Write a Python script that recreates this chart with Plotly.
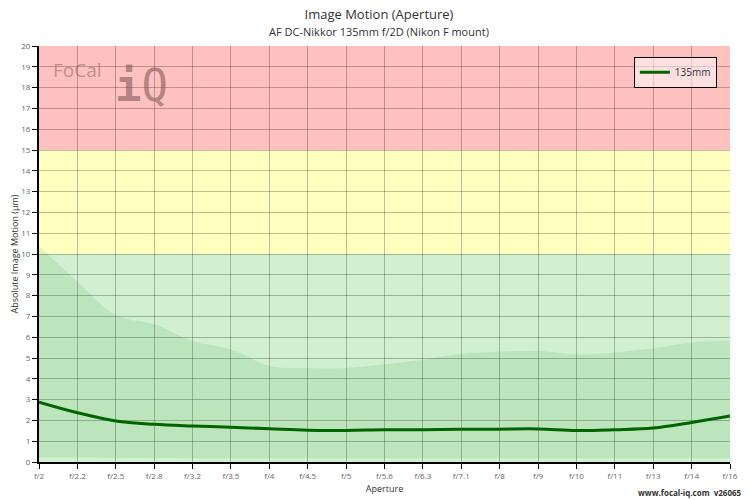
import plotly.graph_objects as go

# apertures along the x axis
apertures = ['f/2', 'f/2.2', 'f/2.5', 'f/2.8', 'f/3.2', 'f/3.5', 'f/4', 'f/4.5', 'f/5', 'f/5.6',
             'f/6.3', 'f/7.1', 'f/8', 'f/9', 'f/10', 'f/11', 'f/13', 'f/14', 'f/16']

# mean image motion (um) for the 135mm
motion = [2.88, 2.37, 1.97, 1.81, 1.73, 1.67, 1.60, 1.53, 1.52, 1.55,
          1.55, 1.57, 1.58, 1.59, 1.51, 1.55, 1.63, 1.90, 2.21]

# spread of the measurements (upper / lower)
spread_hi = [10.38, 8.67, 7.07, 6.62, 5.82, 5.42, 4.62, 4.52, 4.52, 4.70,
             4.92, 5.20, 5.30, 5.34, 5.18, 5.27, 5.47, 5.75, 5.83]
spread_lo = [0.21, 0.20, 0.19, 0.19, 0.18, 0.18, 0.18, 0.18, 0.18, 0.18,
             0.18, 0.18, 0.18, 0.18, 0.18, 0.18, 0.18, 0.18, 0.18]

# zones: (from, to, colour)
zones = [(0, 10, '#d0f0d0'), (10, 15, '#ffffc0'), (15, 20, '#ffc0c0')]

fig = go.Figure()

# spread area
fig.add_trace(go.Scatter(
    x=apertures, y=spread_lo, mode='lines', line=dict(width=0, shape='spline'),
    showlegend=False, hoverinfo='skip'
))
fig.add_trace(go.Scatter(
    x=apertures, y=spread_hi, mode='lines', line=dict(width=0, shape='spline'),
    fill='tonexty', fillcolor='rgba(0,118,0,0.09)',
    showlegend=False, hoverinfo='skip'
))

# the measured line
fig.add_trace(go.Scatter(
    x=apertures, y=motion, mode='lines', name='135mm',
    line=dict(color='#006400', width=3, shape='spline')
))

for lo, hi, col in zones:
    fig.add_shape(type='rect', xref='paper', yref='y', x0=0, x1=1, y0=lo, y1=hi,
                  fillcolor=col, line=dict(width=0), layer='below')

# page body has an 8px margin, so the figure is a bit smaller than the window
fig.update_layout(
    width=742, height=492,
    margin=dict(l=31, r=20, t=38, b=38, autoexpand=False),
    paper_bgcolor='white',
    plot_bgcolor='white',
    font=dict(family='Open Sans, sans-serif', size=9, color='#555'),
    title=dict(
        text='Image Motion (Aperture)<br><span style="font-size:11px">AF DC-Nikkor 135mm f/2D (Nikon F mount)</span>',
        x=0.5, xanchor='center', y=0.977, yanchor='top',
        font=dict(size=13, color='#333')
    ),
    legend=dict(
        x=0.981, xanchor='right', y=0.974, yanchor='top',
        bgcolor='rgba(255,255,255,0.5)', bordercolor='black', borderwidth=1,
        font=dict(size=10, color='#333')
    ),
)

fig.update_xaxes(
    title=dict(text='Aperture', font=dict(size=9, color='#333'), standoff=6),
    range=[0, 18], showgrid=True, gridcolor='rgba(0,0,0,0.25)', automargin=False,
    showline=True, linecolor='black', linewidth=2,
    ticks='outside', ticklen=5, tickcolor='black', tickfont=dict(size=8, color='#666'),
    zeroline=False
)
fig.update_yaxes(
    title=dict(text='Absolute Image Motion (µm)', font=dict(size=9, color='#333'), standoff=8),
    range=[0, 20], dtick=1, showgrid=True, gridcolor='rgba(0,0,0,0.25)', automargin=False,
    showline=True, linecolor='black', linewidth=2,
    ticks='outside', ticklen=5, tickcolor='black', tickfont=dict(size=8, color='#666'),
    zeroline=False
)

# logo watermark
fig.add_annotation(xref='paper', yref='paper', x=0.017, y=0.942, xanchor='left', yanchor='middle',
                   text='FoCal', showarrow=False,
                   font=dict(family='Open Sans, sans-serif', size=19, color='rgba(150,110,110,0.6)'))
fig.add_annotation(xref='paper', yref='paper', x=0.107, y=0.904, xanchor='left', yanchor='middle',
                   text='<b>i</b>Q', showarrow=False,
                   font=dict(family='DejaVu Sans Mono, monospace', size=44, color='rgba(130,90,90,0.6)'))

# site stamp
fig.add_annotation(xref='paper', yref='paper', x=1.02, y=-0.0745, xanchor='right', yanchor='middle',
                   text='<b>www.focal-iq.com  v26065</b>', showarrow=False,
                   font=dict(size=8, color='#333'))

fig.write_html("out.html")
